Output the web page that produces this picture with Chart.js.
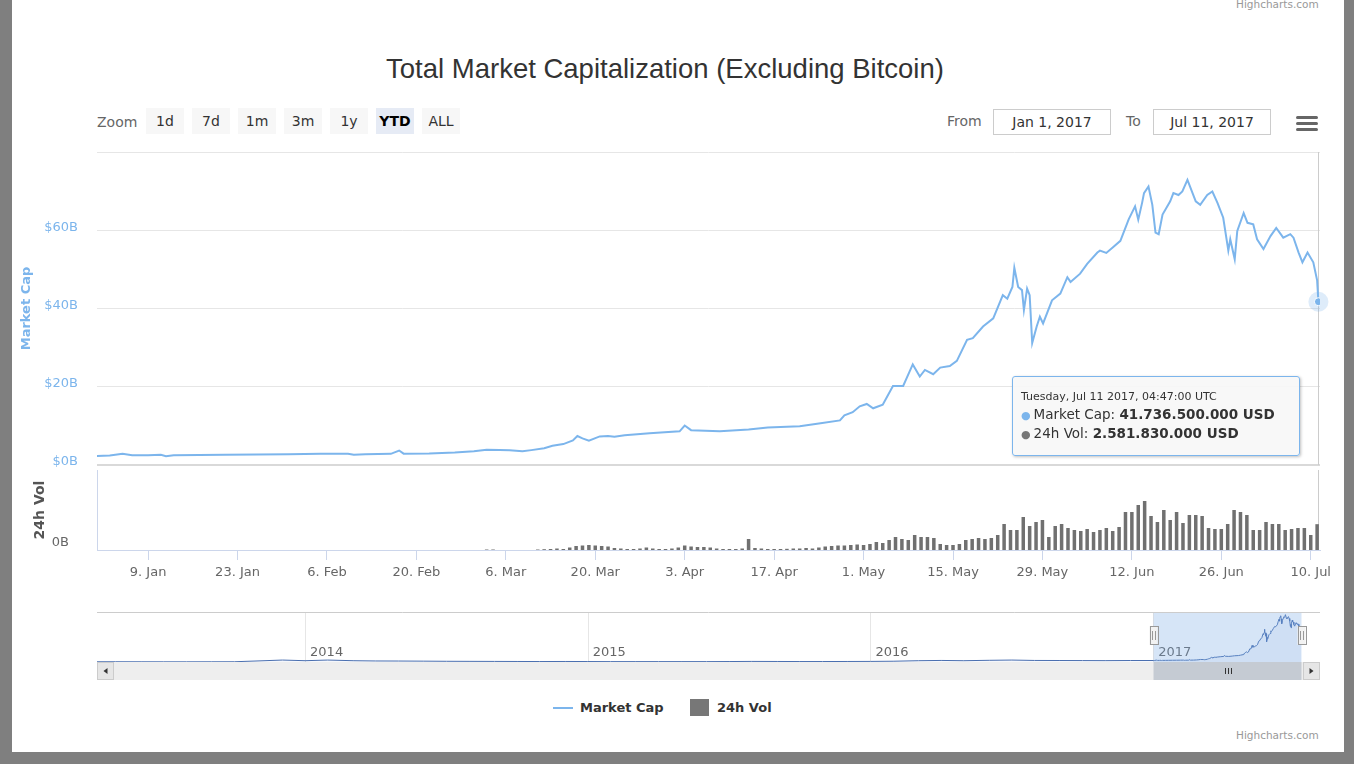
<!DOCTYPE html>
<html>
<head>
<meta charset="utf-8">
<title>Total Market Capitalization (Excluding Bitcoin)</title>
<script src="https://cdn.jsdelivr.net/npm/chart.js@4.4.1/dist/chart.umd.min.js"></script>
<style>
  html,body{margin:0;padding:0;}
  body{width:1354px;height:764px;background:#7f7f7f;position:relative;overflow:hidden;font-family:"DejaVu Sans",sans-serif;}
  .abs{position:absolute;}
  .panel{left:12px;top:0;width:1332px;height:752px;background:#fff;}
  .title{left:215px;width:900px;top:50px;text-align:center;font-family:"Liberation Sans",Arial,sans-serif;font-size:27.5px;color:#333;line-height:38px;white-space:nowrap;}
  .zoom-label{left:97px;top:110px;font-size:14px;color:#666;line-height:24px;}
  .zbtn{top:108px;width:38px;height:26px;line-height:26px;text-align:center;background:#f7f7f7;font-size:14px;color:#333;}
  .zbtn.sel{background:#e6ebf5;font-weight:bold;color:#000;}
  .rlabel{top:109px;font-size:14px;color:#666;line-height:24px;}
  .rinput{top:109px;width:116px;height:24px;border:1px solid #ccc;text-align:center;font-size:14px;color:#333;line-height:24px;}
  .burger{left:1296px;width:22px;height:3px;background:#666;border-radius:1.5px;}
  .credits{font-size:10.5px;color:#999;}
  .chartbox canvas{display:block;}
  #tip{width:286px;height:78px;border:1px solid #7cb5ec;border-radius:3px;background:rgba(247,247,247,0.92);box-shadow:1px 1px 3px rgba(0,0,0,0.25);box-sizing:content-box;color:#333;white-space:nowrap;}
  #tip .h{position:absolute;left:8px;top:12px;font-size:11px;line-height:16px;}
  #tip .r{position:absolute;left:8px;font-size:13.5px;line-height:19px;}
  #tip .dot{font-size:11px;margin-right:3px;}
  .leg{top:698px;font-size:13px;font-weight:bold;color:#333;line-height:20px;}
</style>
</head>
<body>
<div class="abs panel"></div>
<div class="abs credits" style="left:1236px;top:-2px;">Highcharts.com</div>
<div class="abs title">Total Market Capitalization (Excluding Bitcoin)</div>
<div class="abs zoom-label">Zoom</div>
<div id="zoomBtns"></div>
<div class="abs rlabel" style="left:947px;">From</div>
<div class="abs rinput" style="left:993px;" id="fromBox"></div>
<div class="abs rlabel" style="left:1126px;">To</div>
<div class="abs rinput" style="left:1153px;" id="toBox"></div>
<div class="abs burger" style="top:116px;"></div>
<div class="abs burger" style="top:122px;"></div>
<div class="abs burger" style="top:128px;"></div>

<div class="abs chartbox" style="left:0;top:140px;width:1354px;height:330px;"><canvas id="capChart"></canvas></div>
<div class="abs chartbox" style="left:0;top:470px;width:1354px;height:120px;"><canvas id="volChart"></canvas></div>
<div class="abs chartbox" style="left:0;top:612px;width:1354px;height:68px;"><canvas id="navChart"></canvas></div>

<div class="abs" id="tip">
  <div class="h" id="tipHead"></div>
  <div class="r" style="top:28px;"><span class="dot" style="color:#7cb5ec;">&#9679;</span>Market Cap: <b id="tipCap"></b></div>
  <div class="r" style="top:47px;"><span class="dot" style="color:#777;">&#9679;</span>24h Vol: <b id="tipVol"></b></div>
</div>

<div class="abs" style="left:553px;top:707px;width:20px;height:2px;background:#7cb5ec;"></div>
<div class="abs leg" style="left:580px;">Market Cap</div>
<div class="abs" style="left:690px;top:699px;width:19px;height:17px;background:#777;"></div>
<div class="abs leg" style="left:717px;">24h Vol</div>
<div class="abs credits" style="left:1236px;top:729px;">Highcharts.com</div>

<script>
// ***********data (days counted from Jan 1 2017, values in billions USD)***********
const capDays=[0,2,4,5.5,8,10,10.8,12,16,20,25,30,35,39.3,40.2,42,46,47.3,48,52,56,59,61,63,64.6,66.6,68,70,71.3,73,74.5,75.2,76,77,78.7,80,81,82.6,86.5,91.2,92,93,97.5,102,105,110,113,116.3,117,118.3,119.4,120.5,121.5,123,124.6,126.2,127.7,128.8,129.6,130.9,132,133.5,134.6,136.2,137.1,138.7,140.3,141.8,142.5,143.3,143.6,144.2,144.8,145.1,145.6,146,146.4,147.1,147.6,148.1,149.5,150.8,151.9,152.4,153.9,155,156.6,157,158,159,160.2,161.5,162.5,163,163.6,163.9,164.6,165.2,165.7,166.2,166.8,168,168.5,169.3,169.9,170.7,172,172.7,173.8,174.6,175.4,176.3,177.1,177.4,178.1,178.5,179.5,180.1,181,181.6,182.6,183.7,184.6,185.7,186.8,187.3,188.1,188.7,189.5,190.4,191,191.2];
const capValues=[2.3,2.4,2.9,2.5,2.5,2.6,2.25,2.5,2.55,2.6,2.7,2.75,2.85,2.9,2.6,2.75,2.85,3.7,2.9,2.95,3.2,3.5,3.9,3.85,3.8,3.5,3.8,4.3,4.9,5.35,6.3,7.4,6.8,6.2,7.3,7.4,7.2,7.6,8.1,8.6,10.1,8.9,8.6,9.1,9.6,9.9,10.6,11.4,12.7,13.5,15.0,15.6,14.5,15.4,20.2,20.2,25.7,22.6,24.3,23.2,24.9,25.3,26.6,32.0,32.4,35.4,37.5,43.4,42.5,45.5,50.4,45.5,44.7,39.6,45.1,43.4,31.2,35.4,37.9,36.2,42.1,43.8,48.0,46.8,48.9,51.4,54.3,54.8,54.2,55.6,57.3,62.8,66.1,62.7,67.0,69.5,71.2,66.5,59.4,59.0,64.0,67.4,69.5,69.0,69.9,72.9,67.4,66.5,69.0,69.9,67.0,63.2,54.8,57.7,52.6,59.8,64.4,61.9,61.5,57.7,55.2,58.5,60.6,58.1,59.0,58.1,54.3,51.8,54.3,51.8,47.2,41.7365];
// daily 24h volume from Mar 3 (day 61) on, earlier days are empty
const volStartDay=61;
const volValues=[
  0.05,0.05,0,0,0,0,0,0,0.05,0.08,
  0.1,0.15,0.1,0.25,0.4,0.45,0.5,0.45,0.4,0.35,
  0.2,0.15,0.1,0.1,0.15,0.25,0.15,0.1,0.1,0.15,
  0.25,0.45,0.35,0.3,0.3,0.25,0.15,0.1,0.1,0.1,
  0.15,1.1,0.2,0.15,0.1,0.1,0.1,0.12,0.15,0.15,
  0.2,0.15,0.25,0.35,0.4,0.45,0.45,0.5,0.55,0.5,
  0.6,0.8,0.7,1.0,1.3,1.1,1.0,1.5,1.3,1.3,
  1.2,0.6,0.5,0.5,0.6,1.0,1.1,1.2,1.1,1.2,
  1.5,2.6,2.0,2.0,3.3,2.4,2.8,3.0,1.3,2.4,
  2.6,2.2,2.0,1.9,2.1,1.8,2.0,2.2,1.9,2.3,
  3.8,3.8,4.5,4.9,3.4,2.8,4.0,3.0,3.8,2.7,
  3.5,3.5,3.4,2.2,2.1,2.1,2.6,4.0,3.8,3.5,
  2.0,2.0,2.8,2.6,2.6,2.0,2.1,2.2,2.2,1.5,
  2.58183];
const tickDays=[8,22,36,50,64,78,92,106,120,134,148,162,176,190];
const tickLabels=['9. Jan','23. Jan','6. Feb','20. Feb','6. Mar','20. Mar','3. Apr','17. Apr','1. May','15. May','29. May','12. Jun','26. Jun','10. Jul'];
const capTicks=[0,20,40,60,80];
const capTickLabels=['$0B','$20B','$40B','$60B',''];
// navigator history before 2017 (fractional years)
const navYears=[2013.26,2013.33,2013.42,2013.5,2013.58,2013.67,2013.75,2013.83,2013.92,2014.0,2014.08,2014.17,2014.25,2014.33,2014.42,2014.5,2014.58,2014.67,2014.75,2014.83,2014.92,2015.0,2015.08,2015.17,2015.25,2015.33,2015.42,2015.5,2015.58,2015.67,2015.75,2015.83,2015.92,2016.0,2016.08,2016.17,2016.25,2016.33,2016.42,2016.5,2016.58,2016.67,2016.75,2016.83,2016.92];
const navValues=[0.4,0.4,0.35,0.3,0.3,0.35,0.4,1.6,3.0,2.0,3.0,2.0,1.6,1.5,1.3,1.1,1.0,0.9,0.8,0.7,0.8,0.7,0.6,0.6,0.6,0.6,0.6,0.7,0.9,0.8,0.7,0.7,0.8,0.9,1.2,2.0,2.4,2.0,2.6,3.0,2.4,2.3,2.2,2.1,2.3];
const navYearTicks=[2014,2015,2016,2017];
const zoomButtons=['1d','7d','1m','3m','1y','YTD','ALL'];
const selectedZoom='YTD';
const fromText='Jan 1, 2017';
const toText='Jul 11, 2017';
const tipHeader='Tuesday, Jul 11 2017, 04:47:00 UTC';
const lastDay=191.2;
const dayMax=191.45;
const navMin=2013.264;
const navMax=2017.59;

Chart.defaults.font.family='"DejaVu Sans", sans-serif';
Chart.defaults.animation=false;

// ********range selector******
const zoomWrap=document.getElementById('zoomBtns');
zoomButtons.forEach((b,i)=>{
  zoomWrap.insertAdjacentHTML('beforeend',`<div class="abs zbtn${b===selectedZoom?' sel':''}" style="left:${146+i*46}px;">${b}</div>`);
});
document.getElementById('fromBox').textContent=fromText;
document.getElementById('toBox').textContent=toText;

const capPoints=capDays.map((d,i)=>({x:d,y:capValues[i]}));
const volPoints=volValues.map((v,i)=>({x:volStartDay+i,y:v}));
const navPoints=navYears.map((yr,i)=>({x:yr,y:navValues[i]}))
  .concat(capDays.map((d,i)=>({x:2017+d/365,y:capValues[i]})));

// fixed axis widths, no extra padding from the labels
function fixY(s){s.width=97;s.paddingTop=0;s.paddingBottom=0;}

// ********crosshair + hover halo******
const hoverPlugin={
  id:'hoverDeco',
  beforeDatasetsDraw(chart){
    const {ctx,chartArea:a,scales}=chart;
    const px=Math.round(scales.x.getPixelForValue(lastDay))+0.5;
    ctx.save();
    ctx.strokeStyle='#cccccc';ctx.lineWidth=1;
    ctx.beginPath();ctx.moveTo(px,a.top);ctx.lineTo(px,a.bottom);ctx.stroke();
    if(chart.canvas.id==='capChart'){
      const py=scales.y.getPixelForValue(capValues[capValues.length-1]);
      ctx.fillStyle='rgba(124,181,236,0.25)';
      ctx.beginPath();ctx.arc(scales.x.getPixelForValue(lastDay),py,10,0,Math.PI*2);ctx.fill();
    }
    ctx.restore();
  }
};

// ********navigator decorations******
const navPlugin={
  id:'navDeco',
  beforeDatasetsDraw(chart){
    const {ctx,chartArea:a,scales:{x}}=chart;
    ctx.save();
    ctx.strokeStyle='#e6e6e6';ctx.lineWidth=1;
    navYearTicks.forEach(yr=>{
      const px=Math.round(x.getPixelForValue(yr))+0.5;
      ctx.beginPath();ctx.moveTo(px,a.top);ctx.lineTo(px,a.bottom);ctx.stroke();
    });
    ctx.strokeStyle='#cccccc';
    ctx.beginPath();ctx.moveTo(a.left,a.top+0.5);ctx.lineTo(a.right,a.top+0.5);ctx.stroke();
    ctx.fillStyle='#666';ctx.font='13px "DejaVu Sans"';ctx.textBaseline='alphabetic';
    navYearTicks.forEach(yr=>ctx.fillText(String(yr),x.getPixelForValue(yr)+5,a.top+44));
    ctx.restore();
  },
  afterDatasetsDraw(chart){
    const {ctx,chartArea:a,scales:{x}}=chart;
    const l=Math.round(x.getPixelForValue(2017))+0.5;
    const r=Math.round(x.getPixelForValue(2017+lastDay/365))+0.5;
    ctx.save();
    ctx.fillStyle='rgba(120,170,230,0.3)';
    ctx.fillRect(l,a.top+1,r-l,a.bottom-a.top-1);
    // scrollbar
    const sy=a.bottom, sh=18;
    ctx.fillStyle='#eeeeee';ctx.fillRect(a.left,sy,a.right-a.left,sh);
    ctx.fillStyle='#c5cbd3';ctx.fillRect(l,sy,r-l,sh);
    ctx.strokeStyle='#333';ctx.lineWidth=1;
    const cx=Math.round((l+r)/2);
    [-3,0,3].forEach(o=>{ctx.beginPath();ctx.moveTo(cx+o+0.5,sy+6);ctx.lineTo(cx+o+0.5,sy+12);ctx.stroke();});
    [[a.left,1],[a.right-17,-1]].forEach(([bx,dir])=>{
      ctx.fillStyle='#e6e6e6';ctx.fillRect(bx,sy,17,sh);
      ctx.strokeStyle='#cccccc';ctx.strokeRect(bx+0.5,sy+0.5,16,sh-1);
      ctx.fillStyle='#333';ctx.beginPath();
      const mx=bx+8.5,my=sy+9;
      ctx.moveTo(mx-2*dir,my);ctx.lineTo(mx+2*dir,my-3);ctx.lineTo(mx+2*dir,my+3);ctx.closePath();ctx.fill();
    });
    // handles
    [l,r].forEach(hx=>{
      ctx.fillStyle='#f2f2f2';ctx.fillRect(hx-4,a.top+14,8,19);
      ctx.strokeStyle='#999';ctx.strokeRect(Math.round(hx-4)+0.5,a.top+14.5,8,18);
      ctx.beginPath();ctx.moveTo(Math.round(hx)-1.5,a.top+19);ctx.lineTo(Math.round(hx)-1.5,a.top+28);
      ctx.moveTo(Math.round(hx)+1.5,a.top+19);ctx.lineTo(Math.round(hx)+1.5,a.top+28);ctx.stroke();
    });
    ctx.restore();
  }
};

// ********market cap pane******
const capChart=new Chart(document.getElementById('capChart'),{
  type:'line',
  data:{datasets:[{
    label:'Market Cap',data:capPoints,borderColor:'#7cb5ec',borderWidth:2,tension:0,
    pointRadius:ctx=>ctx.dataIndex===capPoints.length-1?4:0,
    pointBackgroundColor:'#7cb5ec',pointBorderColor:'#fff',pointBorderWidth:1
  }]},
  options:{
    responsive:true,maintainAspectRatio:false,events:[],
    layout:{padding:{top:12,right:34,left:0,bottom:0}},
    plugins:{legend:{display:false},tooltip:{enabled:false}},
    scales:{
      x:{type:'linear',min:0,max:dayMax,display:false},
      y:{min:0,max:80,
        afterFit:fixY,
        afterBuildTicks:s=>{s.ticks=capTicks.map(v=>({value:v}));},
        ticks:{color:'#7cb5ec',font:{size:13},padding:19,labelOffset:-3,
          callback:(v,i)=>capTickLabels[i]},
        grid:{drawTicks:false,color:ctx=>ctx.index===0?'#d9d9d9':'#e6e6e6',lineWidth:ctx=>ctx.index===0?2:1},
        border:{display:false},
        title:{display:true,text:'Market Cap',color:'#7cb5ec',font:{size:13,weight:'bold'},padding:{top:19,bottom:0}}
      }
    }
  },
  plugins:[hoverPlugin]
});

// ********volume pane******
const volChart=new Chart(document.getElementById('volChart'),{
  type:'bar',
  data:{datasets:[{label:'24h Vol',data:volPoints,backgroundColor:'#707070',barPercentage:0.55,categoryPercentage:1,borderWidth:0}]},
  options:{
    responsive:true,maintainAspectRatio:false,events:[],
    layout:{padding:{top:0,right:34,left:0,bottom:0}},
    plugins:{legend:{display:false},tooltip:{enabled:false}},
    scales:{
      x:{type:'linear',min:0,max:dayMax,offset:false,
        afterFit:s=>{s.height=40;s.paddingLeft=0;s.paddingRight=0;},
        afterBuildTicks:s=>{s.ticks=tickDays.map(v=>({value:v}));},
        ticks:{color:'#666',font:{size:13},padding:5,autoSkip:false,maxRotation:0,
          callback:(v,i)=>tickLabels[i]},
        grid:{offset:false,drawOnChartArea:false,drawTicks:true,tickLength:10,color:'#ccd6eb'},
        border:{display:true,color:'#ccd6eb'}
      },
      y:{min:0,max:8,
        afterFit:fixY,
        afterBuildTicks:s=>{s.ticks=[{value:0}];},
        ticks:{color:'#666',font:{size:13},padding:20,labelOffset:-7,callback:()=>'0B'},
        grid:{display:false},
        border:{display:true,color:'#ccd6eb'},
        title:{display:true,text:'24h Vol',color:'#555',font:{size:14,weight:'bold'},padding:{top:32,bottom:0}}
      }
    }
  },
  plugins:[hoverPlugin]
});

// ********navigator******
const navChart=new Chart(document.getElementById('navChart'),{
  type:'line',
  data:{datasets:[{data:navPoints,borderColor:'#4a6fb0',borderWidth:1,pointRadius:0,tension:0,
    fill:'origin',backgroundColor:'rgba(51,92,173,0.05)'}]},
  options:{
    responsive:true,maintainAspectRatio:false,events:[],
    layout:{padding:{top:0,right:34,left:97,bottom:18}},
    plugins:{legend:{display:false},tooltip:{enabled:false}},
    scales:{
      x:{type:'linear',min:navMin,max:navMax,display:false},
      y:{min:0,max:77,display:false}
    }
  },
  plugins:[navPlugin]
});

// ********tooltip******
function fmt(b){
  return Math.round(b*1e9).toString().replace(/\B(?=(\d{3})+(?!\d))/g,'.')+' USD';
}
const tip=document.getElementById('tip');
document.getElementById('tipHead').textContent=tipHeader;
document.getElementById('tipCap').textContent=fmt(capValues[capValues.length-1]);
document.getElementById('tipVol').textContent=fmt(volValues[volValues.length-1]);
const px=capChart.scales.x.getPixelForValue(lastDay);
const py=capChart.scales.y.getPixelForValue(capValues[capValues.length-1])+140;
tip.style.left=Math.round(px-306)+'px';
tip.style.top=Math.round(py+74)+'px';
</script>
</body>
</html>
